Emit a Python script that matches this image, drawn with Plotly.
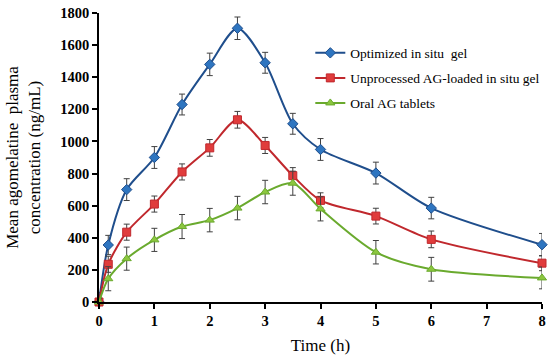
import plotly.graph_objects as go

time_h = [0, 0.167, 0.5, 1, 1.5, 2, 2.5, 3, 3.5, 4, 5, 6, 8]

optimized = [0, 355, 700, 900, 1230, 1480, 1705, 1490, 1110, 950, 803, 585, 357]
optimized_err = [60, 60, 68, 68, 65, 70, 70, 65, 65, 68, 68, 67, 70]

unprocessed = [0, 235, 435, 610, 810, 960, 1135, 975, 787, 633, 535, 390, 242]
unprocessed_err = [30, 50, 50, 50, 50, 52, 52, 50, 50, 47, 49, 52, 47]

oral = [0, 145, 270, 387, 470, 510, 585, 685, 740, 580, 310, 204, 150]
oral_err = [20, 75, 72, 72, 75, 73, 73, 73, 75, 75, 73, 74, 68]

names = ["Optimized in situ  gel", "Unprocessed AG-loaded in situ gel", "Oral AG tablets"]

fig = go.Figure()

specs = [
    (optimized, optimized_err, names[0], "#1F4E8C", "#2E75C0", "diamond", 8),
    (unprocessed, unprocessed_err, names[1], "#C0282D", "#E03C3C", "square", 8),
    (oral, oral_err, names[2], "#6AAA2E", "#8CC63F", "triangle-up", 8),
]

for i, (vals, errs, nm, lc, mc, sym, ms) in enumerate(specs):
    fig.add_trace(go.Scatter(
        x=time_h, y=vals, name=nm, mode="lines+markers",
        legendgroup=f"g{i}",
        line=dict(color=lc, width=2, shape="spline", smoothing=0.8),
        marker=dict(symbol=sym, size=ms, color=mc, line=dict(color=lc, width=1)),
        error_y=dict(type="data", array=errs, visible=True, color="#404040",
                     thickness=1, width=3),
        cliponaxis=False,
    ))

fig.update_layout(
    width=550, height=355,
    margin=dict(l=98.5, r=8.3, t=13.3, b=53.3, autoexpand=False),
    paper_bgcolor="white", plot_bgcolor="white",
    font=dict(family="Liberation Serif", color="black"),
    showlegend=True,
    legend=dict(
        x=0.477, y=0.915, xanchor="left", yanchor="top",
        bgcolor="rgba(0,0,0,0)",
        font=dict(size=13.5, family="Liberation Serif", weight="normal"),
        tracegroupgap=4.5, traceorder="grouped",
    ),
    xaxis=dict(
        range=[0, 8], tickvals=[0, 1, 2, 3, 4, 5, 6, 7, 8],
        showline=True, linecolor="black", linewidth=1.5,
        ticks="outside", ticklen=5, tickcolor="black", tickwidth=1.5,
        showgrid=False, zeroline=False, automargin=False,
        tickfont=dict(size=14.5, family="Liberation Serif", weight="bold"),
        title=dict(text="Time (h)",
                   font=dict(size=17, family="Liberation Serif", weight="normal")),
    ),
    yaxis=dict(
        range=[0, 1800], tickvals=list(range(0, 1801, 200)),
        showline=True, linecolor="black", linewidth=1.5,
        ticks="outside", ticklen=5, tickcolor="black", tickwidth=1.5,
        showgrid=False, zeroline=False, automargin=False,
        tickfont=dict(size=14.5, family="Liberation Serif", weight="bold"),
        title=dict(text="Mean agomelatine  plasma<br>concentration (ng/mL)",
                   font=dict(size=17, family="Liberation Serif", weight="normal")),
    ),
)

fig.write_html("out.html", config={"displayModeBar": False},
               post_script="document.body.style.margin='0';")
